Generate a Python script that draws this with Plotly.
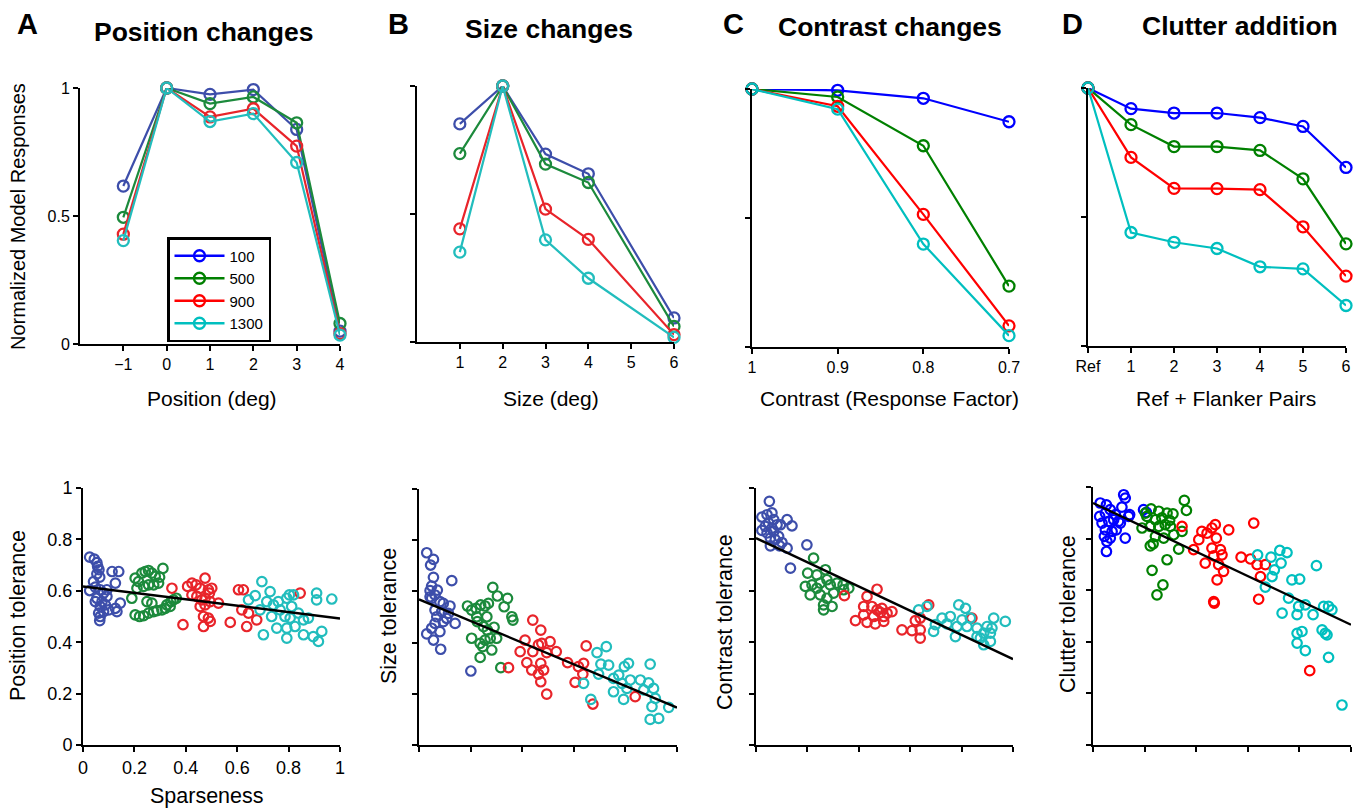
import plotly.graph_objects as go

W, H = 1359, 809
FONT = "Liberation Sans, Arial, Helvetica, sans-serif"

# ---------------- data ----------------
series_names = ["100", "500", "900", "1300"]

# Panel A (top): position changes
pos_x = [-1, 0, 1, 2, 3, 4]
pos_100 = [0.617, 1.0, 0.975, 0.994, 0.838, 0.05]
pos_500 = [0.495, 1.0, 0.939, 0.965, 0.864, 0.08]
pos_900 = [0.429, 1.0, 0.887, 0.919, 0.773, 0.04]
pos_1300 = [0.404, 1.0, 0.869, 0.900, 0.709, 0.035]

# Panel B (top): size changes
size_x = [1, 2, 3, 4, 6]
size_100 = [0.852, 1.0, 0.734, 0.657, 0.094]
size_500 = [0.736, 1.0, 0.695, 0.623, 0.061]
size_900 = [0.442, 1.0, 0.519, 0.401, 0.029]
size_1300 = [0.351, 1.0, 0.399, 0.249, 0.018]

# Panel C (top): contrast changes
con_x = [1.0, 0.9, 0.8, 0.7]
con_100 = [1.0, 0.995, 0.964, 0.873]
con_500 = [1.0, 0.969, 0.780, 0.236]
con_900 = [1.0, 0.933, 0.514, 0.082]
con_1300 = [1.0, 0.922, 0.399, 0.044]

# Panel D (top): clutter addition
clu_x = [0, 1, 2, 3, 4, 5, 6]
clu_ticktext = ["Ref", "1", "2", "3", "4", "5", "6"]
clu_100 = [1.0, 0.920, 0.903, 0.903, 0.885, 0.851, 0.692]
clu_500 = [1.0, 0.858, 0.773, 0.773, 0.758, 0.648, 0.396]
clu_900 = [1.0, 0.731, 0.611, 0.610, 0.606, 0.462, 0.271]
clu_1300 = [1.0, 0.440, 0.402, 0.378, 0.307, 0.299, 0.157]

# Bottom A: position tolerance vs sparseness
pt_100_x = [0.026, 0.044, 0.054, 0.057, 0.062, 0.054, 0.065, 0.026, 0.048, 0.067, 0.080, 0.093, 0.054, 0.074, 0.048, 0.067, 0.087, 0.061, 0.080, 0.067, 0.065, 0.10, 0.126, 0.132, 0.113, 0.139, 0.126, 0.145, 0.093, 0.041]
pt_100_y = [0.731, 0.723, 0.710, 0.695, 0.682, 0.666, 0.653, 0.601, 0.614, 0.604, 0.591, 0.578, 0.571, 0.558, 0.558, 0.539, 0.545, 0.513, 0.519, 0.500, 0.484, 0.526, 0.532, 0.519, 0.675, 0.675, 0.630, 0.552, 0.604, 0.636]
pt_500_x = [0.203, 0.216, 0.229, 0.242, 0.255, 0.268, 0.281, 0.298, 0.311, 0.210, 0.236, 0.255, 0.275, 0.294, 0.190, 0.203, 0.220, 0.236, 0.255, 0.275, 0.288, 0.307, 0.326, 0.342, 0.352, 0.363, 0.268, 0.249, 0.320, 0.339]
pt_500_y = [0.649, 0.636, 0.669, 0.675, 0.679, 0.669, 0.656, 0.653, 0.687, 0.610, 0.617, 0.623, 0.623, 0.630, 0.571, 0.506, 0.500, 0.503, 0.513, 0.519, 0.523, 0.526, 0.545, 0.558, 0.565, 0.571, 0.552, 0.558, 0.532, 0.539]
pt_900_x = [0.346, 0.389, 0.407, 0.424, 0.440, 0.456, 0.475, 0.488, 0.501, 0.424, 0.443, 0.462, 0.475, 0.492, 0.456, 0.475, 0.495, 0.527, 0.469, 0.488, 0.469, 0.495, 0.573, 0.605, 0.624, 0.618, 0.644, 0.676, 0.637, 0.845]
pt_900_y = [0.610, 0.468, 0.617, 0.630, 0.623, 0.610, 0.649, 0.604, 0.610, 0.584, 0.578, 0.565, 0.571, 0.591, 0.539, 0.545, 0.558, 0.552, 0.500, 0.494, 0.461, 0.481, 0.477, 0.604, 0.604, 0.526, 0.513, 0.487, 0.461, 0.591]
pt_1300_x = [0.644, 0.670, 0.696, 0.728, 0.715, 0.741, 0.760, 0.793, 0.803, 0.819, 0.767, 0.734, 0.702, 0.754, 0.793, 0.825, 0.793, 0.858, 0.877, 0.858, 0.896, 0.916, 0.929, 0.909, 0.909, 0.968, 0.812, 0.838, 0.806, 0.786, 0.689]
pt_1300_y = [0.565, 0.581, 0.636, 0.597, 0.558, 0.545, 0.558, 0.571, 0.584, 0.584, 0.526, 0.500, 0.429, 0.455, 0.455, 0.461, 0.416, 0.487, 0.494, 0.429, 0.422, 0.403, 0.442, 0.565, 0.591, 0.568, 0.539, 0.513, 0.494, 0.500, 0.526]
pt_fit_x = [0.0, 1.0]
pt_fit_y = [0.617, 0.492]

# Bottom B: size tolerance
st_100_x = [0.030, 0.056, 0.045, 0.056, 0.049, 0.071, 0.043, 0.062, 0.049, 0.081, 0.094, 0.120, 0.127, 0.062, 0.088, 0.114, 0.140, 0.094, 0.062, 0.049, 0.081, 0.030, 0.056, 0.084, 0.043, 0.069, 0.107, 0.201]
st_100_y = [0.751, 0.725, 0.703, 0.655, 0.621, 0.605, 0.603, 0.586, 0.573, 0.560, 0.553, 0.543, 0.642, 0.527, 0.521, 0.514, 0.475, 0.482, 0.475, 0.456, 0.443, 0.434, 0.410, 0.374, 0.579, 0.501, 0.495, 0.289]
st_500_x = [0.188, 0.204, 0.221, 0.239, 0.256, 0.269, 0.286, 0.304, 0.330, 0.343, 0.360, 0.364, 0.226, 0.250, 0.265, 0.291, 0.204, 0.237, 0.256, 0.276, 0.301, 0.247, 0.282, 0.237, 0.317, 0.224, 0.263]
st_500_y = [0.543, 0.527, 0.534, 0.547, 0.543, 0.553, 0.616, 0.582, 0.540, 0.573, 0.501, 0.488, 0.482, 0.462, 0.449, 0.460, 0.417, 0.397, 0.410, 0.417, 0.417, 0.384, 0.371, 0.342, 0.302, 0.501, 0.501]
st_900_x = [0.347, 0.441, 0.472, 0.411, 0.392, 0.441, 0.463, 0.476, 0.508, 0.495, 0.532, 0.418, 0.437, 0.472, 0.483, 0.463, 0.472, 0.495, 0.576, 0.618, 0.638, 0.648, 0.605, 0.635, 0.674, 0.838]
st_900_y = [0.302, 0.488, 0.449, 0.410, 0.365, 0.365, 0.391, 0.397, 0.404, 0.361, 0.365, 0.322, 0.293, 0.319, 0.293, 0.277, 0.247, 0.199, 0.322, 0.306, 0.319, 0.387, 0.245, 0.277, 0.160, 0.189]
st_1300_x = [0.690, 0.726, 0.705, 0.735, 0.696, 0.638, 0.666, 0.754, 0.774, 0.787, 0.796, 0.812, 0.793, 0.819, 0.858, 0.890, 0.896, 0.909, 0.871, 0.916, 0.903, 0.968, 0.896, 0.929, 0.806, 0.754]
st_1300_y = [0.361, 0.384, 0.316, 0.312, 0.277, 0.241, 0.178, 0.208, 0.273, 0.241, 0.306, 0.319, 0.178, 0.254, 0.254, 0.243, 0.316, 0.221, 0.215, 0.182, 0.150, 0.147, 0.100, 0.104, 0.221, 0.260]
st_fit_x = [0.0, 1.0]
st_fit_y = [0.569, 0.146]

# Bottom C: contrast tolerance
ct_100_x = [0.052, 0.023, 0.043, 0.062, 0.069, 0.049, 0.082, 0.023, 0.043, 0.069, 0.088, 0.056, 0.075, 0.101, 0.056, 0.092, 0.121, 0.140, 0.121, 0.134, 0.198, 0.095, 0.036, 0.062]
ct_100_y = [0.948, 0.887, 0.896, 0.903, 0.877, 0.864, 0.857, 0.835, 0.825, 0.831, 0.812, 0.805, 0.799, 0.788, 0.775, 0.775, 0.877, 0.853, 0.766, 0.688, 0.779, 0.857, 0.851, 0.844]
ct_500_x = [0.224, 0.201, 0.237, 0.270, 0.192, 0.218, 0.250, 0.276, 0.289, 0.315, 0.339, 0.361, 0.211, 0.250, 0.276, 0.302, 0.263, 0.296, 0.263, 0.341, 0.237]
ct_500_y = [0.727, 0.669, 0.662, 0.682, 0.617, 0.623, 0.630, 0.643, 0.623, 0.630, 0.623, 0.610, 0.584, 0.584, 0.571, 0.591, 0.545, 0.539, 0.526, 0.604, 0.610]
ct_900_x = [0.344, 0.432, 0.471, 0.419, 0.451, 0.471, 0.490, 0.510, 0.529, 0.419, 0.458, 0.497, 0.387, 0.432, 0.464, 0.497, 0.568, 0.607, 0.639, 0.639, 0.620, 0.639, 0.672, 0.840, 0.484]
ct_900_y = [0.581, 0.578, 0.606, 0.539, 0.539, 0.526, 0.532, 0.513, 0.519, 0.506, 0.500, 0.500, 0.484, 0.477, 0.471, 0.481, 0.448, 0.445, 0.448, 0.416, 0.484, 0.494, 0.545, 0.494, 0.516]
ct_1300_x = [0.633, 0.665, 0.691, 0.698, 0.724, 0.756, 0.776, 0.789, 0.815, 0.802, 0.821, 0.834, 0.782, 0.743, 0.860, 0.860, 0.886, 0.899, 0.918, 0.886, 0.912, 0.925, 0.970, 0.912, 0.873]
ct_1300_y = [0.526, 0.539, 0.442, 0.468, 0.494, 0.500, 0.422, 0.545, 0.532, 0.487, 0.461, 0.494, 0.461, 0.471, 0.455, 0.422, 0.435, 0.461, 0.455, 0.390, 0.403, 0.494, 0.481, 0.435, 0.416]
ct_fit_x = [0.0, 1.0]
ct_fit_y = [0.805, 0.334]

# Bottom D: clutter tolerance
kt_100_x = [0.028, 0.052, 0.026, 0.048, 0.067, 0.087, 0.035, 0.061, 0.080, 0.099, 0.048, 0.074, 0.090, 0.044, 0.067, 0.054, 0.052, 0.125, 0.119, 0.125, 0.112, 0.142, 0.138, 0.196, 0.207, 0.106]
kt_100_y = [0.938, 0.931, 0.886, 0.899, 0.912, 0.893, 0.860, 0.867, 0.873, 0.867, 0.834, 0.828, 0.834, 0.809, 0.802, 0.789, 0.750, 0.802, 0.970, 0.957, 0.922, 0.893, 0.886, 0.912, 0.902, 0.860]
kt_500_x = [0.225, 0.255, 0.287, 0.310, 0.354, 0.362, 0.209, 0.242, 0.267, 0.297, 0.190, 0.222, 0.255, 0.280, 0.300, 0.345, 0.313, 0.274, 0.242, 0.233, 0.222, 0.332, 0.287, 0.229, 0.271, 0.248, 0.203]
kt_500_y = [0.915, 0.906, 0.899, 0.896, 0.948, 0.909, 0.886, 0.873, 0.880, 0.871, 0.841, 0.847, 0.847, 0.854, 0.847, 0.828, 0.815, 0.802, 0.809, 0.780, 0.772, 0.759, 0.718, 0.677, 0.621, 0.582, 0.899]
kt_900_x = [0.345, 0.390, 0.410, 0.422, 0.442, 0.461, 0.474, 0.478, 0.526, 0.461, 0.494, 0.500, 0.435, 0.468, 0.487, 0.506, 0.481, 0.468, 0.470, 0.574, 0.623, 0.610, 0.636, 0.649, 0.668, 0.642, 0.840]
kt_900_y = [0.847, 0.757, 0.796, 0.828, 0.821, 0.841, 0.854, 0.802, 0.834, 0.763, 0.757, 0.737, 0.705, 0.733, 0.699, 0.673, 0.640, 0.556, 0.550, 0.728, 0.860, 0.721, 0.699, 0.653, 0.699, 0.565, 0.288]
kt_1300_x = [0.638, 0.690, 0.724, 0.752, 0.729, 0.703, 0.694, 0.668, 0.771, 0.801, 0.758, 0.797, 0.791, 0.823, 0.733, 0.853, 0.866, 0.894, 0.913, 0.926, 0.791, 0.810, 0.791, 0.823, 0.888, 0.900, 0.907, 0.913, 0.965]
kt_1300_y = [0.737, 0.728, 0.754, 0.746, 0.705, 0.679, 0.653, 0.612, 0.640, 0.643, 0.569, 0.537, 0.505, 0.543, 0.511, 0.505, 0.695, 0.537, 0.537, 0.524, 0.433, 0.440, 0.395, 0.366, 0.446, 0.433, 0.427, 0.340, 0.155]
kt_fit_x = [0.0, 1.0]
kt_fit_y = [0.938, 0.466]

# ---------------- styles ----------------
PAPER_COLS = ["#3D4EAA", "#1C8A3C", "#E8242A", "#22BDBD"]
PURE_COLS = ["#0000FF", "#008000", "#FF0000", "#00BFBF"]

def px_x(p):
    return p / W

def px_y(p):
    return 1 - p / H

fig = go.Figure()

# subplot domains in pixels: (x0, x1, ytop, ybottom)
domains = {
    1: (80, 340, 88, 344),
    2: (417, 674, 86, 342),
    3: (752, 1009, 89, 347),
    4: (1088, 1346, 88, 346),
    5: (83, 340, 488, 745),
    6: (419, 677, 489, 745),
    7: (756, 1013, 488, 745),
    8: (1093, 1351, 487, 745),
}

def ax(i):
    return ("x" if i == 1 else f"x{i}"), ("y" if i == 1 else f"y{i}")

def add_lines(i, xs, ys_list, cols):
    xa, ya = ax(i)
    for ys, c, nm in zip(ys_list, cols, series_names):
        fig.add_trace(go.Scatter(
            x=xs, y=ys, mode="lines+markers", xaxis=xa, yaxis=ya,
            line=dict(color=c, width=2.2),
            marker=dict(symbol="circle-open", size=11, color=c, line=dict(width=2.3, color=c)),
            showlegend=False, cliponaxis=False, name=nm))

def add_scatter(i, groups, cols, fit_x, fit_y):
    xa, ya = ax(i)
    for (gx, gy), c in zip(groups, cols):
        fig.add_trace(go.Scatter(
            x=gx, y=gy, mode="markers", xaxis=xa, yaxis=ya,
            marker=dict(symbol="circle-open", size=9.5, color=c, line=dict(width=2.2, color=c)),
            showlegend=False, cliponaxis=False))
    fig.add_trace(go.Scatter(x=fit_x, y=fit_y, mode="lines", xaxis=xa, yaxis=ya,
                             line=dict(color="black", width=2.4), showlegend=False,
                             cliponaxis=False))

add_lines(1, pos_x, [pos_100, pos_500, pos_900, pos_1300], PAPER_COLS)
add_lines(2, size_x, [size_100, size_500, size_900, size_1300], PAPER_COLS)
add_lines(3, con_x, [con_100, con_500, con_900, con_1300], PURE_COLS)
add_lines(4, clu_x, [clu_100, clu_500, clu_900, clu_1300], PURE_COLS)

add_scatter(5, [(pt_100_x, pt_100_y), (pt_500_x, pt_500_y), (pt_900_x, pt_900_y), (pt_1300_x, pt_1300_y)],
            PAPER_COLS, pt_fit_x, pt_fit_y)
add_scatter(6, [(st_100_x, st_100_y), (st_500_x, st_500_y), (st_900_x, st_900_y), (st_1300_x, st_1300_y)],
            PAPER_COLS, st_fit_x, st_fit_y)
add_scatter(7, [(ct_100_x, ct_100_y), (ct_500_x, ct_500_y), (ct_900_x, ct_900_y), (ct_1300_x, ct_1300_y)],
            PAPER_COLS, ct_fit_x, ct_fit_y)
add_scatter(8, [(kt_100_x, kt_100_y), (kt_500_x, kt_500_y), (kt_900_x, kt_900_y), (kt_1300_x, kt_1300_y)],
            PURE_COLS, kt_fit_x, kt_fit_y)

# legend entries (pure colours as in the reference legend)
for c, nm in zip(PURE_COLS, series_names):
    fig.add_trace(go.Scatter(
        x=[None], y=[None], mode="lines+markers", name=nm,
        line=dict(color=c, width=2.4),
        marker=dict(symbol="circle-open", size=11, color=c, line=dict(width=2.3, color=c)),
        showlegend=True))

axis_common = dict(showline=True, linecolor="black", linewidth=2, ticks="outside",
                   ticklen=5, tickwidth=2, tickcolor="black", showgrid=False, zeroline=False,
                   automargin=False,
                   tickfont=dict(family=FONT, size=16, color="black"), mirror=False)

layout = dict(
    template="none",
    width=W, height=H, margin=dict(l=0, r=0, t=0, b=0, pad=0, autoexpand=False),
    paper_bgcolor="white", plot_bgcolor="white",
    font=dict(family=FONT, color="black"),
    showlegend=True,
    legend=dict(x=px_x(167), y=px_y(237), xanchor="left", yanchor="top",
                bordercolor="black", borderwidth=2.5, bgcolor="white",
                font=dict(family=FONT, size=15, color="black"),
                itemwidth=50, tracegroupgap=0),
)

for i, (x0, x1, yt, yb) in domains.items():
    xk = "xaxis" if i == 1 else f"xaxis{i}"
    yk = "yaxis" if i == 1 else f"yaxis{i}"
    ya_name = "y" if i == 1 else f"y{i}"
    xa_name = "x" if i == 1 else f"x{i}"
    xd = dict(axis_common, domain=[px_x(x0), px_x(x1)], anchor=ya_name)
    yd = dict(axis_common, domain=[px_y(yb), px_y(yt)], anchor=xa_name)
    layout[xk] = xd
    layout[yk] = yd

# top row axes
layout["xaxis"].update(range=[-2, 4], tickvals=pos_x, ticktext=["\u22121", "0", "1", "2", "3", "4"])
layout["yaxis"].update(range=[0, 1], tickvals=[0, 0.5, 1], ticktext=["0", "0.5", "1"])
layout["xaxis2"].update(range=[0, 6], tickvals=[1, 2, 3, 4, 5, 6])
layout["yaxis2"].update(range=[0, 1], tickvals=[0, 0.5, 1], showticklabels=False)
layout["xaxis3"].update(range=[1, 0.7], tickvals=con_x, ticktext=["1", "0.9", "0.8", "0.7"])
layout["yaxis3"].update(range=[0, 1], tickvals=[0, 0.5, 1], showticklabels=False)
layout["xaxis4"].update(range=[0, 6], tickvals=clu_x, ticktext=clu_ticktext)
layout["yaxis4"].update(range=[0, 1], tickvals=[0, 0.5, 1], showticklabels=False)

# bottom row axes
ticks01 = [0, 0.2, 0.4, 0.6, 0.8, 1]
labels01 = ["0", "0.2", "0.4", "0.6", "0.8", "1"]
for i in (5, 6, 7, 8):
    layout[f"xaxis{i}"].update(range=[0, 1], tickvals=ticks01, ticktext=labels01,
                               tickfont=dict(family=FONT, size=18, color="black"))
    layout[f"yaxis{i}"].update(range=[0, 1], tickvals=ticks01, ticktext=labels01,
                               tickfont=dict(family=FONT, size=18, color="black"))
    if i != 5:
        layout[f"xaxis{i}"]["showticklabels"] = False
        layout[f"yaxis{i}"]["showticklabels"] = False

fig.update_layout(**layout)

def ann(text, x, y, size, bold=False, angle=0):
    fig.add_annotation(text=f"<b>{text}</b>" if bold else text,
                       x=px_x(x), y=px_y(y), xref="paper", yref="paper",
                       xanchor="center", yanchor="middle", showarrow=False,
                       textangle=angle, font=dict(family=FONT, size=size, color="black"))

# panel letters and titles
ann("A", 27, 24, 29, True)
ann("Position changes", 204, 32, 26.5, True)
ann("B", 398, 24, 29, True)
ann("Size changes", 549, 29, 26.5, True)
ann("C", 733, 24, 29, True)
ann("Contrast changes", 890, 27, 26.5, True)
ann("D", 1072, 24, 29, True)
ann("Clutter addition", 1240, 26, 26.5, True)

# axis titles
ann("Normalized Model Responses", 18, 217, 20, angle=-90)
ann("Position (deg)", 212, 398, 21)
ann("Size (deg)", 551, 398, 21)
ann("Contrast (Response Factor)", 889, 398, 21)
ann("Ref + Flanker Pairs", 1226, 398, 21)

ann("Position tolerance", 18, 616, 21.5, angle=-90)
ann("Sparseness", 207, 796, 21.5)
ann("Size tolerance", 389, 616, 21.5, angle=-90)
ann("Contrast tolerance", 725, 622, 21.5, angle=-90)
ann("Clutter tolerance", 1068, 614, 21.5, angle=-90)

fig.write_html("out.html", config={"displayModeBar": False},
               post_script="document.body.style.margin='0';document.body.style.overflow='hidden';")
